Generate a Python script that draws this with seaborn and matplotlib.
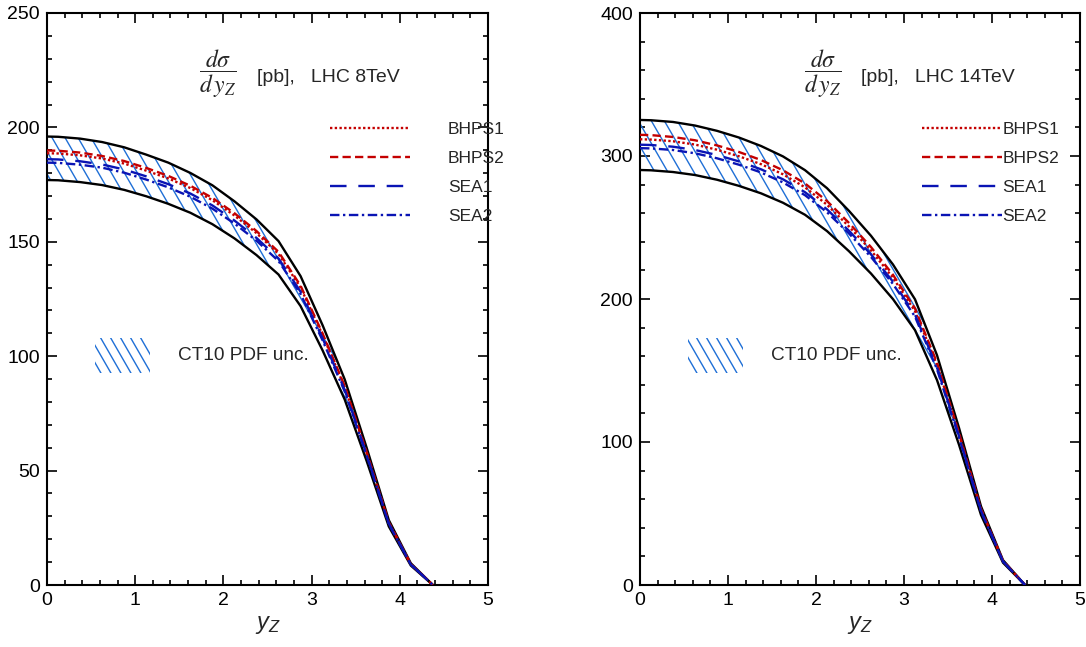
import numpy as np
import pandas as pd
import matplotlib
matplotlib.use("Agg")
import matplotlib.pyplot as plt
import seaborn as sns
from matplotlib.collections import LineCollection
from matplotlib.patches import Rectangle
from matplotlib.lines import Line2D
from matplotlib.ticker import MultipleLocator

# ---------------- data ----------------
y_z = [0, 0.125, 0.375, 0.625, 0.875, 1.125, 1.375, 1.625, 1.875, 2.125,
       2.375, 2.625, 2.875, 3.125, 3.375, 3.625, 3.875, 4.125, 4.375]

# LHC 8 TeV
ct10_up_8 = [196.0, 195.9, 195.1, 193.6, 191.3, 188.1, 184.6, 180.1, 174.7, 167.7,
             159.8, 150.3, 135.0, 113.5, 89.9, 59.9, 28.4, 9.5, 0]
ct10_lo_8 = [177.0, 176.9, 176.1, 174.8, 172.7, 169.9, 166.6, 162.7, 157.7, 151.5,
             144.2, 135.7, 121.9, 102.5, 81.1, 54.1, 25.6, 8.5, 0]
bhps1_8 = [188.7, 188.6, 187.8, 186.4, 184.2, 181.1, 177.7, 173.5, 168.2, 161.5,
           153.8, 144.7, 130.0, 109.3, 86.5, 57.7, 27.3, 9.1, 0]
bhps2_8 = [189.9, 189.8, 189.0, 187.5, 185.3, 182.3, 178.8, 174.5, 169.2, 162.5,
           154.7, 145.6, 130.8, 109.9, 87.0, 58.0, 27.4, 9.1, 0]
sea1_8 = [186.1, 186.0, 185.2, 183.8, 181.6, 178.6, 175.2, 171.1, 165.9, 159.3,
          151.7, 142.7, 128.2, 107.8, 85.3, 56.9, 26.9, 9.0, 0]
sea2_8 = [184.6, 184.5, 183.7, 182.4, 180.2, 177.2, 173.8, 169.7, 164.5, 158.0,
          150.5, 141.6, 127.2, 106.9, 84.6, 56.4, 26.7, 8.9, 0]

# LHC 14 TeV
ct10_up_14 = [325.2, 325.0, 323.8, 321.3, 317.6, 312.9, 307.0, 299.7, 290.1, 277.5,
              261.6, 244.2, 224.1, 199.8, 160.7, 109.9, 55.0, 17.4, 0]
ct10_lo_14 = [290.2, 290.0, 288.8, 286.7, 283.4, 279.1, 273.9, 267.3, 258.9, 247.5,
              233.4, 217.8, 199.9, 178.2, 143.3, 98.1, 49.0, 15.6, 0]
bhps1_14 = [311.7, 311.5, 310.3, 308.0, 304.4, 299.8, 294.3, 287.2, 278.1, 265.9,
            250.7, 234.0, 214.8, 191.5, 154.0, 105.4, 52.7, 16.7, 0]
bhps2_14 = [314.8, 314.6, 313.3, 311.0, 307.4, 302.8, 297.2, 290.0, 280.8, 268.5,
            253.2, 236.3, 216.9, 193.3, 155.5, 106.4, 53.2, 16.9, 0]
sea1_14 = [307.9, 307.7, 306.5, 304.2, 300.7, 296.2, 290.7, 283.7, 274.7, 262.7,
           247.7, 231.2, 212.1, 189.1, 152.1, 104.1, 52.0, 16.5, 0]
sea2_14 = [305.5, 305.3, 304.2, 301.9, 298.4, 293.9, 288.5, 281.5, 272.6, 260.7,
           245.8, 229.4, 210.5, 187.7, 150.9, 103.3, 51.6, 16.4, 0]

series_names = ["BHPS1", "BHPS2", "SEA1", "SEA2"]
energies = ["LHC 8TeV", "LHC 14TeV"]
band_label = "CT10 PDF unc."

# ---------------- style ----------------
sns.set_style("ticks")
plt.rcParams["font.family"] = ["Liberation Sans", "DejaVu Sans"]
plt.rcParams["mathtext.fontset"] = "custom"
plt.rcParams["mathtext.rm"] = "Liberation Sans"
plt.rcParams["mathtext.it"] = "Liberation Sans:italic"
plt.rcParams["axes.edgecolor"] = "black"

RED = "#c40000"
BLUE = "#0a14b4"
HATCH = "#1f6fd6"
styles = {
    "BHPS1": dict(color=RED, linestyle=(0, (1.0, 1.0))),
    "BHPS2": dict(color=RED, linestyle=(0, (3.5, 1.8))),
    "SEA1": dict(color=BLUE, linestyle=(0, (7.0, 5.0))),
    "SEA2": dict(color=BLUE, linestyle=(0, (4.0, 1.5, 1.0, 1.5))),
}

FIG_W, FIG_H = 1086, 647
fig = plt.figure(figsize=(FIG_W / 100, FIG_H / 100), dpi=100)
axes_pos = [[47 / FIG_W, 62 / FIG_H, 441 / FIG_W, 572 / FIG_H],
            [640 / FIG_W, 62 / FIG_H, 440 / FIG_W, 572 / FIG_H]]


def hatch_lines(ax, pos, spacing_px, angle_deg, clip_path, clip_transform):
    W = pos[2] * FIG_W
    H = pos[3] * FIG_H
    a = np.deg2rad(angle_deg)
    step = spacing_px / W
    shift = 1.6 * H * np.cos(a) / (np.sin(a) * W)
    segs = [[(x0, 1.3), (x0 + shift, -0.3)] for x0 in np.arange(-3, 2, step)]
    lc = LineCollection(segs, colors=HATCH, linewidths=1.0,
                        transform=ax.transAxes, zorder=2)
    ax.add_collection(lc)
    lc.set_clip_path(clip_path, clip_transform)


def panel(ax, pos, up, lo, lines, ymax, ymaj, ymin, energy, frac_x,
          leg_x, text_pad):
    # band (invisible fill used as hatch clip region)
    poly = ax.fill_between(y_z, lo, up, facecolor="none", edgecolor="none")
    sns.lineplot(x=y_z, y=up, ax=ax, color="black", lw=1.7, estimator=None,
                 sort=False, zorder=4)
    sns.lineplot(x=y_z, y=lo, ax=ax, color="black", lw=1.7, estimator=None,
                 sort=False, zorder=4)
    handles = []
    for name, vals in zip(series_names, lines):
        st = styles[name]
        sns.lineplot(x=y_z, y=vals, ax=ax, color=st["color"],
                     linestyle=st["linestyle"], lw=1.7, estimator=None,
                     sort=False, zorder=5)
        handles.append(Line2D([], [], color=st["color"],
                              linestyle=st["linestyle"], lw=1.7, label=name))
    ax.set_xlim(0, 5)
    ax.set_ylim(0, ymax)
    hatch_lines(ax, pos, 13, 60, poly.get_paths()[0], ax.transData)

    # hatch swatch + label
    rect = Rectangle((0.109, 0.371), 0.125, 0.061, transform=ax.transAxes,
                     facecolor="none", edgecolor="none")
    ax.add_patch(rect)
    hatch_lines(ax, pos, 10, 60, rect.get_path(), rect.get_transform())
    ax.text(0.297, 0.401, band_label, transform=ax.transAxes, fontsize=13.7,
            va="center", ha="left")

    # header
    ax.text(frac_x, 0.893, r"$\dfrac{d\sigma}{d\,y_Z}$",
            transform=ax.transAxes, fontsize=17, va="center", ha="left",
            math_fontfamily="stix")
    ax.text(frac_x + 0.131, 0.888, "[pb],   " + energy,
            transform=ax.transAxes, fontsize=14, va="center", ha="left")

    ax.legend(handles=handles, loc="upper left",
              bbox_to_anchor=(leg_x, 0.819), frameon=False, fontsize=12.5,
              handlelength=4.6, handletextpad=text_pad, labelspacing=0.8,
              borderaxespad=0, borderpad=0.3)

    ax.xaxis.set_major_locator(MultipleLocator(1))
    ax.xaxis.set_minor_locator(MultipleLocator(0.2))
    ax.yaxis.set_major_locator(MultipleLocator(ymaj))
    ax.yaxis.set_minor_locator(MultipleLocator(ymin))
    ax.tick_params(which="both", direction="in", top=True, right=True,
                   width=1.2, colors="black", labelsize=14)
    ax.tick_params(which="major", length=7, pad=5)
    ax.tick_params(which="minor", length=3.5)
    for sp in ax.spines.values():
        sp.set_linewidth(1.5)
        sp.set_color("black")
    ax.set_xlabel(r"$y_Z$", fontsize=17, labelpad=4)
    ax.set_ylabel("")


axL = fig.add_axes(axes_pos[0])
axR = fig.add_axes(axes_pos[1])
panel(axL, axes_pos[0], ct10_up_8, ct10_lo_8,
      [bhps1_8, bhps2_8, sea1_8, sea2_8], 250, 50, 10, energies[0], 0.345,
      0.63, 2.2)
panel(axR, axes_pos[1], ct10_up_14, ct10_lo_14,
      [bhps1_14, bhps2_14, sea1_14, sea2_14], 400, 100, 20, energies[1], 0.372,
      0.63, 0.0)

fig.savefig("out.png", dpi=100)
